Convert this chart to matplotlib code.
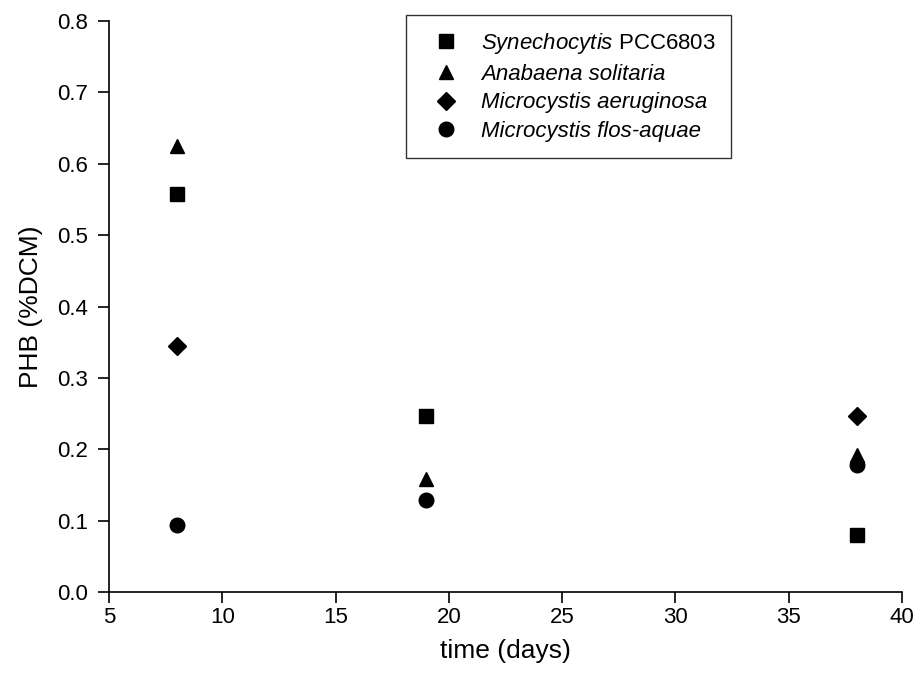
import matplotlib
matplotlib.use("Agg")
import matplotlib.pyplot as plt
import numpy as np

plt.rcParams['font.family'] = ['Liberation Sans', 'DejaVu Sans']
plt.rcParams['mathtext.fontset'] = 'custom'
plt.rcParams['mathtext.rm'] = 'Liberation Sans'
plt.rcParams['mathtext.it'] = 'Liberation Sans:italic'

days = [8, 19, 38]
synechocytis = [0.557, 0.247, 0.080]
anabaena = [0.625, 0.158, 0.192]
aeruginosa = [0.345, np.nan, 0.246]
flos_aquae = [0.094, 0.129, 0.178]

labels = [r'Synechocytis $\mathrm{PCC6803}$', 'Anabaena solitaria',
          'Microcystis aeruginosa', 'Microcystis flos-aquae']

xticks = [5, 10, 15, 20, 25, 30, 35, 40]
yticks = [0.0, 0.1, 0.2, 0.3, 0.4, 0.5, 0.6, 0.7, 0.8]

fig = plt.figure(figsize=(9.17, 6.85), dpi=100)
ax = fig.add_axes([0.1189, 0.1358, 0.9836 - 0.1189, 0.9693 - 0.1358])

ax.plot(days, synechocytis, 's', color='black', ms=9.5, ls='none', label=labels[0])
ax.plot(days, anabaena, '^', color='black', ms=10, ls='none', label=labels[1])
ax.plot(days, aeruginosa, 'D', color='black', ms=9, ls='none', label=labels[2])
ax.plot(days, flos_aquae, 'o', color='black', ms=10.5, ls='none', label=labels[3])

ax.set_xlim(5, 40)
ax.set_ylim(0, 0.8)
ax.set_xticks(xticks)
ax.set_yticks(yticks)
ax.set_xticklabels([str(v) for v in xticks])
ax.set_yticklabels([f'{v:.1f}' for v in yticks])
ax.spines['top'].set_visible(False)
ax.spines['right'].set_visible(False)
for s in ['left', 'bottom']:
    ax.spines[s].set_linewidth(1.2)
ax.tick_params(direction='out', length=8, width=1.2, labelsize=16)
ax.tick_params(axis='x', pad=3)
ax.tick_params(axis='y', pad=7)

ax.set_xlabel('time (days)', fontsize=19, labelpad=8)
ax.set_ylabel('PHB (%DCM)', fontsize=19, labelpad=10)

leg = ax.legend(loc='upper left', bbox_to_anchor=(0.375, 1.01),
                prop={'style': 'italic', 'size': 16}, frameon=True,
                fancybox=False, edgecolor='black', handletextpad=0.45,
                borderpad=0.7, labelspacing=0.35, handlelength=2.2,
                borderaxespad=0.0)
leg.get_frame().set_linewidth(1.0)

fig.savefig('out.png', dpi=100)
